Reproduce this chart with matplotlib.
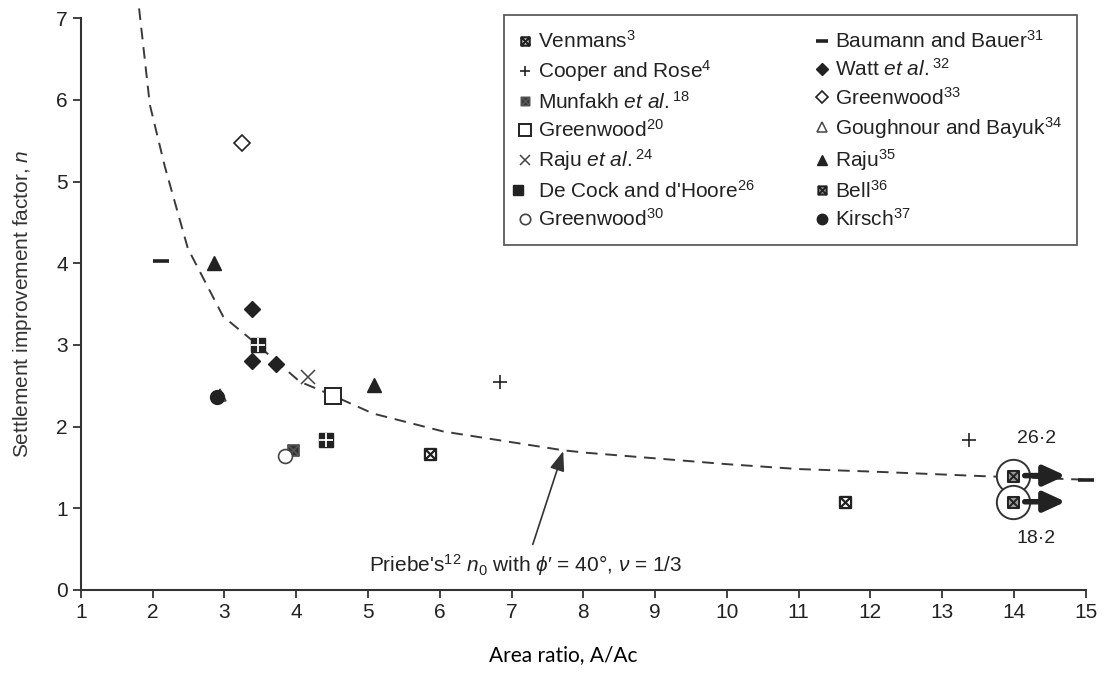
import numpy as np
import matplotlib
matplotlib.use("Agg")
import matplotlib.pyplot as plt
from matplotlib.path import Path
from matplotlib.legend_handler import HandlerTuple

plt.rcParams["font.family"] = ["Liberation Sans", "DejaVu Sans"]
plt.rcParams["mathtext.fontset"] = "custom"
plt.rcParams["mathtext.rm"] = "Liberation Sans"
plt.rcParams["mathtext.it"] = "Liberation Sans:italic"

priebe_x = [1.81, 1.96, 2.17, 2.49, 2.98, 3.38, 4.05, 4.51, 5.07, 6.05,
            7.72, 8.04, 10.0, 11.0, 12.0, 13.66, 15.0]
priebe_y = [7.12, 5.94, 5.18, 4.18, 3.35, 3.06, 2.55, 2.38, 2.16, 1.94,
            1.71, 1.68, 1.54, 1.48, 1.45, 1.39, 1.35]

# field / model test results (area ratio, improvement factor)
venmans_x, venmans_y = [5.86, 11.65], [1.67, 1.08]
cooper_x, cooper_y = [6.84, 13.38], [2.55, 1.84]
munfakh_x, munfakh_y = [3.95], [1.71]
greenwood20_x, greenwood20_y = [4.51], [2.38]
raju24_x, raju24_y = [4.17], [2.61]
decock_x, decock_y = [3.47, 4.41], [3.0, 1.84]
greenwood30_x, greenwood30_y = [3.84], [1.64]
baumann_x, baumann_y = [2.11, 15.0], [4.03, 1.35]
watt_x, watt_y = [3.38, 3.38, 3.72], [3.44, 2.80, 2.77]
greenwood33_x, greenwood33_y = [3.24], [5.47]
goughnour_x, goughnour_y = [2.94], [2.39]
raju35_x, raju35_y = [2.86, 5.09], [4.0, 2.51]
bell_x, bell_y = [13.98, 13.98], [1.40, 1.08]
bell_true = ["26·2", "18·2"]
kirsch_x, kirsch_y = [2.89], [2.36]

INK = "#222222"

# square with a cross inside
BOXX = Path([(-1, -1), (1, -1), (1, 1), (-1, 1), (-1, -1),
             (-1, -1), (1, 1), (-1, 1), (1, -1)],
            [Path.MOVETO, Path.LINETO, Path.LINETO, Path.LINETO, Path.CLOSEPOLY,
             Path.MOVETO, Path.LINETO, Path.MOVETO, Path.LINETO])


def pts(ax, x, y, **kw):
    base = dict(linestyle="none", color=INK, clip_on=False, zorder=4)
    base.update(kw)
    return ax.plot(x, y, **base)[0]


fig = plt.figure(figsize=(11.09, 6.75), dpi=100)
ax = fig.add_axes([0.073, 0.126, 0.906, 0.847])

ax.plot(priebe_x, priebe_y, color="#3a3a3a", lw=1.4, ls=(0, (6, 4)),
        clip_on=False, zorder=2)

h_ven = pts(ax, venmans_x, venmans_y, marker=BOXX, ms=8, mfc="white",
            mec=INK, mew=1.6)
h_coop = pts(ax, cooper_x, cooper_y, marker="+", ms=10, mew=1.2)
h_mun = pts(ax, munfakh_x, munfakh_y, marker=BOXX, ms=8, mfc="#333333",
            mec="#555555", mew=1.2)
h_gw20 = pts(ax, greenwood20_x, greenwood20_y, marker="s", ms=12, mfc="white",
             mec=INK, mew=1.4)
h_raju24 = pts(ax, raju24_x, raju24_y, marker="x", ms=10, mew=1.1, color="#444444")
h_dc1 = pts(ax, decock_x, decock_y, marker="s", ms=10, mfc=INK, mec=INK)
h_dc2 = pts(ax, decock_x, decock_y, marker="+", ms=10, mew=1.3, color="white", zorder=5)
h_gw30 = pts(ax, greenwood30_x, greenwood30_y, marker="o", ms=10, mfc="white",
             mec="#444444", mew=1.2)
h_bau = pts(ax, baumann_x, baumann_y, marker="_", ms=12, mew=2.6)
h_watt = pts(ax, watt_x, watt_y, marker="D", ms=8)
h_gw33 = pts(ax, greenwood33_x, greenwood33_y, marker="D", ms=8.5, mfc="white",
             mec=INK, mew=1.2)
h_gough = pts(ax, goughnour_x, goughnour_y, marker="^", ms=9, mfc="white",
              mec="#444444", mew=1.1)
h_raju35 = pts(ax, raju35_x, raju35_y, marker="^", ms=10)
h_bell = pts(ax, bell_x, bell_y, marker=BOXX, ms=8, mfc="#999999",
             mec=INK, mew=1.4, zorder=6)
h_kir = pts(ax, kirsch_x, kirsch_y, marker="o", ms=10)

# Bell values lie off the scale: ring them and point right
pts(ax, bell_x, bell_y, marker="o", ms=24, mfc="white", mec="#333333", mew=1.4,
    zorder=5)
for bx, by, lab, dy in zip(bell_x, bell_y, bell_true, [0.45, -0.45]):
    ax.annotate("", xy=(bx + 0.74, by), xytext=(bx + 0.17, by),
                arrowprops=dict(arrowstyle="-|>,head_length=1.3,head_width=0.6",
                                lw=4, color=INK, shrinkA=0, shrinkB=0),
                annotation_clip=False, zorder=7)
    ax.text(bx + 0.33, by + dy, lab, fontsize=14, color=INK,
            ha="center", va="center")

ax.annotate("Priebe's$^{12}$ $n_0$ with $\\phi$\u2032 = 40°, $\\nu$ = 1/3",
            xy=(7.72, 1.70), xytext=(7.2, 0.30),
            fontsize=15, color=INK, ha="center", va="center",
            arrowprops=dict(arrowstyle="-|>,head_length=0.8,head_width=0.3",
                            lw=1.2, color="#333333", shrinkA=4, shrinkB=0))

ax.set_xlim(1, 15)
ax.set_ylim(0, 7)
ax.set_xticks(np.arange(1, 16))
ax.set_yticks(np.arange(0, 8))
for s in ["top", "right"]:
    ax.spines[s].set_visible(False)
for s in ["left", "bottom"]:
    ax.spines[s].set_color("#333333")
    ax.spines[s].set_linewidth(1.5)
ax.tick_params(direction="out", length=6, width=1.3, color="#333333",
               labelsize=15, labelcolor=INK)

ax.set_ylabel(r"Settlement improvement factor, $n$", fontsize=15,
              color="#333333", labelpad=16)
ax.set_xlabel("Area ratio, A/Ac", fontsize=15, family="Lato", color="black")
ax.xaxis.set_label_coords(0.48, -0.097)

handles = [h_ven, h_coop, h_mun, h_gw20, h_raju24, (h_dc1, h_dc2), h_gw30,
           h_bau, h_watt, h_gw33, h_gough, h_raju35, h_bell, h_kir]
labels = ["Venmans$^{3}$", "Cooper and Rose$^{4}$",
          r"Munfakh $\mathit{et\ al.}^{18}$", "Greenwood$^{20}$",
          r"Raju $\mathit{et\ al.}^{24}$", "De Cock and d'Hoore$^{26}$",
          "Greenwood$^{30}$", "Baumann and Bauer$^{31}$",
          r"Watt $\mathit{et\ al.}^{32}$", "Greenwood$^{33}$",
          "Goughnour and Bayuk$^{34}$", "Raju$^{35}$", "Bell$^{36}$",
          "Kirsch$^{37}$"]
leg = ax.legend(handles, labels, ncol=2, loc="upper right",
                bbox_to_anchor=(0.991, 1.005), borderaxespad=0, fontsize=15,
                handler_map={tuple: HandlerTuple(ndivide=None)},
                handlelength=0.6, handletextpad=0.35, columnspacing=2.9,
                labelspacing=0.31, borderpad=0.7, frameon=True, fancybox=False,
                markerscale=0.75)
leg.get_frame().set_edgecolor("#333333")
leg.get_frame().set_linewidth(1.3)
for t in leg.get_texts():
    t.set_color(INK)

fig.savefig("out.png", dpi=100)
